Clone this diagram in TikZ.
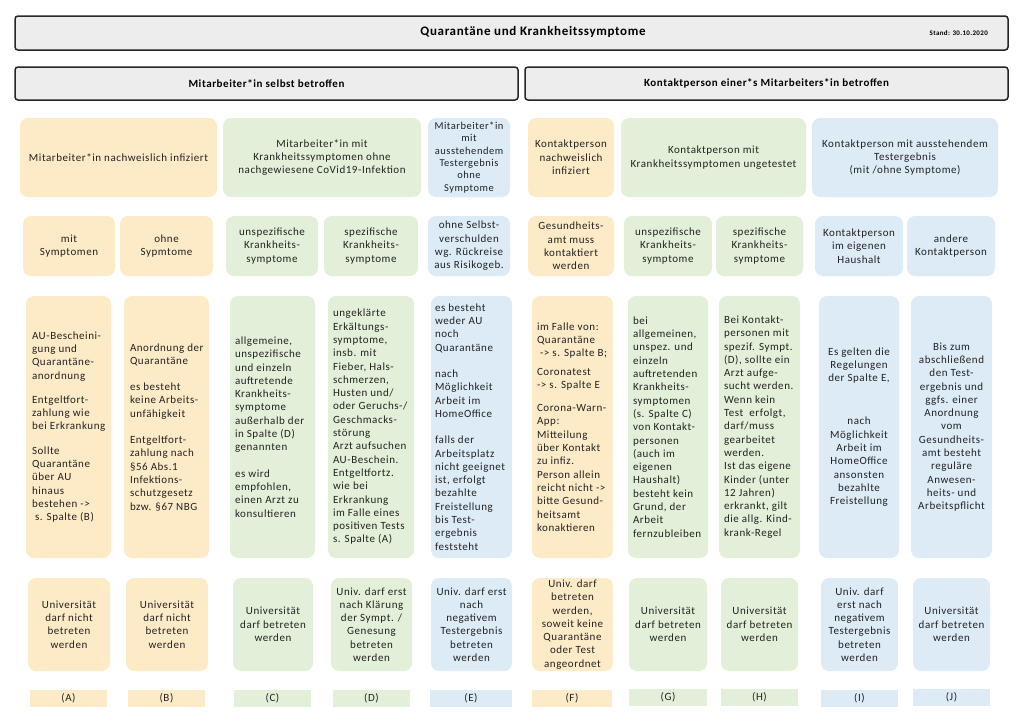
\documentclass[tikz,border=0pt]{standalone}
\usepackage{fontspec}
\setmainfont{Carlito}[LetterSpace=5]
\definecolor{cy}{HTML}{FDEBC8}
\definecolor{cg}{HTML}{E2EFD9}
\definecolor{cb}{HTML}{DDEBF7}
\definecolor{ct}{HTML}{222222}
\definecolor{hd}{HTML}{EDEDED}
\tikzset{
  bx/.style={rounded corners=8pt, draw=none, inner sep=0pt},
  ybox/.style={bx, fill=cy},
  gbox/.style={bx, fill=cg},
  bbox/.style={bx, fill=cb},
  ylab/.style={draw=none, fill=cy, inner sep=0pt},
  glab/.style={draw=none, fill=cg, inner sep=0pt},
  blab/.style={draw=none, fill=cb, inner sep=0pt},
  hbox/.style={draw=black!85, fill=hd, line width=1.5pt, rounded corners=3pt, inner sep=0pt},
  tx/.style={text=ct, font=\fontsize{11}{13.3}\selectfont, inner sep=0pt},
  txl/.style={tx, anchor=west, align=left},
  txc/.style={tx, align=center},
}
\newcommand\BX[6]{\node[#1, minimum width={#5-#3}, minimum height={#6-#4}] (#2) at ({(#3+#5)/2},{(#4+#6)/2}) {};}
\begin{document}
\begin{tikzpicture}[x=1pt,y=-1pt]
\useasboundingbox (0,0) rectangle (1024,724);
% title and section headers
\BX{hbox}{title}{15}{16}{1008}{50}
\node[text=black, font=\bfseries\fontsize{13}{15}\selectfont, inner sep=0pt] (titlet) at (533,32) {Quarantäne und Krankheitssymptome};
\node[text=black, font=\bfseries\fontsize{7}{8}\selectfont, anchor=east, inner sep=0pt] (stand) at (988,33) {Stand: 30.10.2020};
\BX{hbox}{secL}{15}{67}{518}{100}
\node[text=black, font=\bfseries\fontsize{11}{13}\selectfont, inner sep=0pt] (secLt) at (secL) {Mitarbeiter*in selbst betroffen};
\BX{hbox}{secR}{525}{67}{1008}{100}
\node[text=black, font=\bfseries\fontsize{11}{13}\selectfont, inner sep=0pt] (secRt) at (secR) {Kontaktperson einer*s Mitarbeiters*in betroffen};
% row 1
\BX{ybox}{AB1}{20}{118}{217}{197}
\BX{gbox}{CD1}{223}{118}{421}{197}
\BX{bbox}{E1}{428}{118}{510}{197}
\BX{ybox}{F1}{528}{118}{614}{197}
\BX{gbox}{GH1}{621}{118}{806}{197}
\BX{bbox}{IJ1}{812}{118}{998}{197}
\node[txc] (AB1t) at (AB1) {Mitarbeiter*in nachweislich infiziert};
\node[txc] (CD1t) at (CD1) {Mitarbeiter*in mit\\Krankheitssymptomen ohne\\nachgewiesene CoVid19-Infektion};
\node[txc, font=\fontsize{10.5}{12.3}\selectfont] (E1t) at (E1) {Mitarbeiter*in\\mit\\ausstehendem\\Testergebnis\\ohne\\Symptome};
\node[txc] (F1t) at (F1) {Kontaktperson\\nachweislich\\infiziert};
\node[txc] (GH1t) at (GH1) {Kontaktperson mit\\Krankheitssymptomen ungetestet};
\node[txc] (IJ1t) at (IJ1) {Kontaktperson mit ausstehendem\\Testergebnis\\(mit /ohne Symptome)};
% row 2
\BX{ybox}{A2}{23}{216}{115}{276}
\BX{ybox}{B2}{120}{216}{213}{276}
\BX{gbox}{C2}{226}{216}{318}{276}
\BX{gbox}{D2}{324}{216}{418}{276}
\BX{bbox}{E2}{428}{216}{510}{276}
\BX{ybox}{F2}{528}{216}{614}{276}
\BX{gbox}{G2}{624}{216}{712}{276}
\BX{gbox}{H2}{716}{216}{803}{276}
\BX{bbox}{I2}{815}{216}{903}{276}
\BX{bbox}{J2}{907}{216}{995}{276}
\node[txc] (A2t) at (A2) {mit\\Symptomen};
\node[txc] (B2t) at (B2) {ohne\\Sypmtome};
\node[txc] (C2t) at (C2) {unspezifische\\Krankheits-\\symptome};
\node[txc] (D2t) at (D2) {spezifische\\Krankheits-\\symptome};
\node[txc] (E2t) at (E2) {ohne Selbst-\\verschulden\\wg. Rückreise\\aus Risikogeb.};
\node[txc] (F2t) at (F2) {Gesundheits-\\amt muss\\kontaktiert\\werden};
\node[txc] (G2t) at (G2) {unspezifische\\Krankheits-\\symptome};
\node[txc] (H2t) at (H2) {spezifische\\Krankheits-\\symptome};
\node[txc] (I2t) at (I2) {Kontaktperson\\im eigenen\\Haushalt};
\node[txc] (J2t) at (J2) {andere\\Kontaktperson};
% row 3
\BX{ybox}{A3}{26}{296}{111}{558}
\BX{ybox}{B3}{124}{296}{209}{558}
\BX{gbox}{C3}{230}{296}{315}{558}
\BX{gbox}{D3}{328}{296}{414}{558}
\BX{bbox}{E3}{431}{296}{512}{558}
\BX{ybox}{F3}{532}{296}{613}{558}
\BX{gbox}{G3}{628}{296}{708}{558}
\BX{gbox}{H3}{719}{296}{800}{558}
\BX{bbox}{I3}{819}{296}{899}{558}
\BX{bbox}{J3}{911}{296}{992}{558}
\node[txl] (A3t) at ([xshift=6pt]A3.west) {AU-Bescheini-\\gung und\\Quarantäne-\\anordnung\\[11pt]Entgeltfort-\\zahlung wie\\bei Erkrankung\\[11pt]Sollte\\Quarantäne\\über AU\\hinaus\\bestehen ->\\\hspace*{3pt}s. Spalte (B)};
\node[txl] (B3t) at ([xshift=6pt]B3.west) {Anordnung der\\Quarantäne\\[13pt]es besteht\\keine Arbeits-\\unfähigkeit\\[13pt]Entgeltfort-\\zahlung nach\\§56 Abs.1\\Infektions-\\schutzgesetz\\bzw. §67 NBG};
\node[txl] (C3t) at ([xshift=5pt]C3.west) {allgemeine,\\unspezifische\\und einzeln\\auftretende\\Krankheits-\\symptome\\außerhalb der\\in Spalte (D)\\genannten\\[13pt]es wird\\empfohlen,\\einen Arzt zu\\konsultieren};
\node[txl] (D3t) at ([xshift=5pt]D3.west) {ungeklärte\\Erkältungs-\\symptome,\\insb. mit\\Fieber, Hals-\\schmerzen,\\Husten und/\\oder Geruchs-/\\Geschmacks-\\störung\\Arzt aufsuchen\\AU-Beschein.\\Entgeltfortz.\\wie bei\\Erkrankung\\im Falle eines\\positiven Tests\\s. Spalte (A)};
\node[txl] (E3t) at ([xshift=4pt]E3.west) {es besteht\\weder AU\\noch\\Quarantäne\\[13pt]nach\\Möglichkeit\\Arbeit im\\HomeOffice\\[13pt]falls der\\Arbeitsplatz\\nicht geeignet\\ist, erfolgt\\bezahlte\\Freistellung\\bis Test-\\ergebnis\\feststeht};
\node[txl] (F3t) at ([xshift=5pt]F3.west) {im Falle von:\\Quarantäne\\\hspace*{3pt}-> s. Spalte B;\\[5pt]Coronatest\\-> s. Spalte E\\[10pt]Corona-Warn-\\App:\\Mitteilung\\über Kontakt\\zu infiz.\\Person allein\\reicht nicht ->\\bitte Gesund-\\heitsamt\\konaktieren};
\node[txl] (G3t) at ([xshift=5pt]G3.west) {bei\\allgemeinen,\\unspez. und\\einzeln\\auftretenden\\Krankheits-\\symptomen\\(s. Spalte C)\\von Kontakt-\\personen\\(auch im\\eigenen\\Haushalt)\\besteht kein\\Grund, der\\Arbeit\\fernzubleiben};
\node[txl] (H3t) at ([xshift=5pt]H3.west) {Bei Kontakt-\\personen mit\\spezif. Sympt.\\(D), sollte ein\\Arzt aufge-\\sucht werden.\\Wenn kein\\Test\ \ erfolgt,\\darf/muss\\gearbeitet\\werden.\\Ist das eigene\\Kinder (unter\\12 Jahren)\\erkrankt, gilt\\die allg. Kind-\\krank-Regel};
\node[txc] (I3t) at (I3) {Es gelten die\\Regelungen\\der Spalte E,\\[30pt]nach\\Möglichkeit\\Arbeit im\\HomeOffice\\ansonsten\\bezahlte\\Freistellung};
\node[txc] (J3t) at (J3) {Bis zum\\abschließend\\den Test-\\ergebnis und\\ggfs. einer\\Anordnung\\vom\\Gesundheits-\\amt besteht\\reguläre\\Anwesen-\\heits- und\\Arbeitspflicht};
% row 4
\BX{ybox}{A4}{28}{578}{110}{671}
\BX{ybox}{B4}{126}{578}{208}{671}
\BX{gbox}{C4}{233}{578}{313}{671}
\BX{gbox}{D4}{331}{578}{412}{671}
\BX{bbox}{E4}{431}{578}{512}{671}
\BX{ybox}{F4}{532}{578}{613}{671}
\BX{gbox}{G4}{629}{578}{707}{671}
\BX{gbox}{H4}{721}{578}{798}{671}
\BX{bbox}{I4}{821}{578}{898}{671}
\BX{bbox}{J4}{913}{578}{990}{671}
\node[txc] (A4t) at (A4) {Universität\\darf nicht\\betreten\\werden};
\node[txc] (B4t) at (B4) {Universität\\darf nicht\\betreten\\werden};
\node[txc] (C4t) at (C4) {Universität\\darf betreten\\werden};
\node[txc] (D4t) at (D4) {Univ. darf erst\\nach Klärung\\der Sympt. /\\Genesung\\betreten\\werden};
\node[txc] (E4t) at (E4) {Univ. darf erst\\nach\\negativem\\Testergebnis\\betreten\\werden};
\node[txc] (F4t) at (F4) {Univ. darf\\betreten\\werden,\\soweit keine\\Quarantäne\\oder Test\\angeordnet};
\node[txc] (G4t) at (G4) {Universität\\darf betreten\\werden};
\node[txc] (H4t) at (H4) {Universität\\darf betreten\\werden};
\node[txc] (I4t) at (I4) {Univ. darf\\erst nach\\negativem\\Testergebnis\\betreten\\werden};
\node[txc] (J4t) at (J4) {Universität\\darf betreten\\werden};
% row 5 labels
\BX{ylab}{A5}{30}{690}{107}{707}
\BX{ylab}{B5}{128}{690}{205}{707}
\BX{glab}{C5}{234}{690}{311}{707}
\BX{glab}{D5}{333}{690}{410}{707}
\BX{blab}{E5}{430}{690}{512}{707}
\BX{ylab}{F5}{532}{690}{612}{707}
\BX{glab}{G5}{629}{689}{707}{706}
\BX{glab}{H5}{721}{689}{798}{706}
\BX{blab}{I5}{821}{690}{898}{707}
\BX{blab}{J5}{913}{689}{990}{706}
\node[txc] (A5t) at (A5) {(A)};
\node[txc] (B5t) at (B5) {(B)};
\node[txc] (C5t) at (C5) {(C)};
\node[txc] (D5t) at (D5) {(D)};
\node[txc] (E5t) at (E5) {(E)};
\node[txc] (F5t) at (F5) {(F)};
\node[txc] (G5t) at (G5) {(G)};
\node[txc] (H5t) at (H5) {(H)};
\node[txc] (I5t) at (I5) {(I)};
\node[txc] (J5t) at (J5) {(J)};
\end{tikzpicture}
\end{document}
